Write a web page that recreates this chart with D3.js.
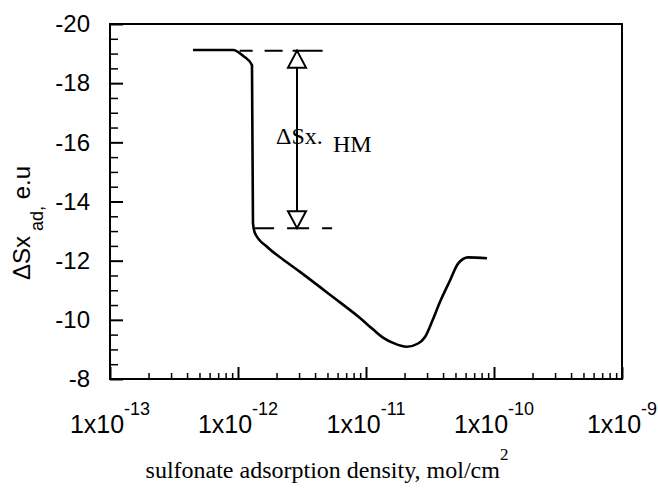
<!DOCTYPE html>
<html>
<head>
<meta charset="utf-8">
<script src="https://cdn.jsdelivr.net/npm/d3@7"></script>
<style>
  body { margin: 0; background: #fff; }
  svg { display: block; }
</style>
</head>
<body>
<div id="chart"></div>
<script>
// curve (density in mol/cm2, entropy in e.u)
const density = [4.45e-13, 9.14e-13, 1.1e-12, 1.286e-12, 1.309e-12, 1.358e-12, 1.685e-12, 2.248e-12,
  3.05e-12, 5.52e-12, 8.98e-12, 1.14e-11, 1.358e-11, 1.626e-11, 2.09e-11, 2.55e-11, 2.89e-11,
  3.28e-11, 3.78e-11, 4.53e-11, 5.24e-11, 6.27e-11, 8.81e-11];
const entropy = [-19.12, -19.12, -18.92, -18.61, -13.27, -12.93, -12.47, -12.04,
  -11.62, -10.77, -10.06, -9.67, -9.40, -9.22, -9.09, -9.20, -9.42,
  -9.94, -10.60, -11.33, -11.90, -12.11, -12.08];

const xMajor = [1e-13, 1e-12, 1e-11, 1e-10, 1e-9];
const xExponents = ['-13', '-12', '-11', '-10', '-9'];
const yMajor = [-20, -18, -16, -14, -12, -10, -8];

// ΔSx HM marker: arrow position and the two levels it spans
const hmX = 2.89e-12;
const hmLevels = [-19.1, -13.1];
const hmDashStart = [1.03e-12, 1.36e-12];
const hmDashEnd = [4.6e-12, 5.52e-12];

const W = 658, H = 490;
const plotL = 110, plotR = 622, plotT = 24, plotB = 379;

const x = d3.scaleLog().domain([1e-13, 1e-9]).range([plotL, plotR]);
const y = d3.scaleLinear().domain([-20, -8]).range([plotT, plotB]);

const svg = d3.select('#chart').append('svg')
  .attr('width', W).attr('height', H);

// minor ticks
const xMinor = [];
xMajor.slice(0, -1).forEach(d => { for (let k = 2; k < 10; k++) xMinor.push(k * d); });
const yMinor = d3.range(-20, -7.9, 0.5).filter(v => !yMajor.includes(v));

svg.append('g')
  .attr('transform', `translate(0,${plotB})`)
  .call(d3.axisBottom(x).tickValues(xMinor).tickSize(-6).tickFormat(''))
  .call(g => g.select('.domain').remove())
  .call(g => g.selectAll('line').attr('stroke-width', 1.5));

svg.append('g')
  .attr('transform', `translate(0,${plotB})`)
  .call(d3.axisBottom(x).tickValues(xMajor).tickSize(-12).tickFormat(''))
  .call(g => g.select('.domain').remove())
  .call(g => g.selectAll('line').attr('stroke-width', 2));

svg.append('g')
  .attr('transform', `translate(${plotL},0)`)
  .call(d3.axisLeft(y).tickValues(yMinor).tickSize(-8).tickFormat(''))
  .call(g => g.select('.domain').remove())
  .call(g => g.selectAll('line').attr('stroke-width', 1.5));

svg.append('g')
  .attr('transform', `translate(${plotL},0)`)
  .call(d3.axisLeft(y).tickValues(yMajor).tickSize(-13).tickPadding(20).tickFormat(d => String(d)))
  .call(g => g.select('.domain').remove())
  .call(g => g.selectAll('line').attr('stroke-width', 2))
  .call(g => g.selectAll('text')
    .attr('font-family', 'Liberation Sans, Arial, sans-serif')
    .attr('font-size', 24).attr('fill', '#000'));

// x tick labels with exponent
const xl = svg.append('g')
  .selectAll('text').data(xMajor).enter().append('text')
  .attr('x', d => x(d)).attr('y', plotB + 54)
  .attr('text-anchor', 'middle')
  .attr('font-family', 'Liberation Sans, Arial, sans-serif')
  .attr('font-size', 25);
xl.append('tspan').text('1x10');
xl.append('tspan').attr('dy', -18).attr('font-size', 18).text((d, i) => xExponents[i]);

// frame
svg.append('rect')
  .attr('x', plotL).attr('y', plotT)
  .attr('width', plotR - plotL).attr('height', plotB - plotT)
  .attr('fill', 'none').attr('stroke', '#000').attr('stroke-width', 2);

// curve
const line = d3.line()
  .x((d, i) => x(density[i]))
  .y(d => y(d))
  .curve(d3.curveMonotoneX);

svg.append('path')
  .datum(entropy)
  .attr('d', line)
  .attr('fill', 'none')
  .attr('stroke', '#000')
  .attr('stroke-width', 2.6)
  .attr('stroke-linejoin', 'round');

// dashed level lines
const dashes = ['13,12,18,10,30', '19,13,22,13,10'];
hmLevels.forEach((v, i) => {
  svg.append('line')
    .attr('x1', x(hmDashStart[i])).attr('x2', x(hmDashEnd[i]))
    .attr('y1', y(v)).attr('y2', y(v))
    .attr('stroke', '#000').attr('stroke-width', 2)
    .attr('stroke-dasharray', dashes[i]);
});

// double arrow with open heads
const ax = x(hmX), yTop = y(hmLevels[0]), yBot = y(hmLevels[1]);
const head = 17, half = 9;
svg.append('line')
  .attr('x1', ax).attr('x2', ax)
  .attr('y1', yTop + head).attr('y2', yBot - head)
  .attr('stroke', '#000').attr('stroke-width', 2);
svg.append('path')
  .attr('d', `M${ax},${yTop}L${ax - half},${yTop + head}L${ax + half},${yTop + head}Z`)
  .attr('fill', '#fff').attr('stroke', '#000').attr('stroke-width', 2);
svg.append('path')
  .attr('d', `M${ax},${yBot}L${ax - half},${yBot - head}L${ax + half},${yBot - head}Z`)
  .attr('fill', '#fff').attr('stroke', '#000').attr('stroke-width', 2);

const hmLabel = svg.append('text')
  .attr('x', 276).attr('y', 144)
  .attr('font-family', 'Liberation Serif, Times New Roman, serif')
  .attr('font-size', 24);
hmLabel.append('tspan').text('ΔSx.');
hmLabel.append('tspan').attr('x', 333).attr('dy', 8).attr('font-size', 24).text('HM');

// y title
const yt = svg.append('text')
  .attr('transform', 'translate(30,280) rotate(-90)')
  .attr('font-family', 'Liberation Sans, Arial, sans-serif')
  .attr('font-size', 24);
yt.append('tspan').text('ΔSx');
yt.append('tspan').attr('dy', 13).attr('font-size', 18).text(' ad,');
yt.append('tspan').attr('dy', -13).text(' e.u');

// x title
const xt = svg.append('text')
  .attr('x', 327).attr('y', 478)
  .attr('text-anchor', 'middle')
  .attr('font-family', 'Liberation Serif, Times New Roman, serif')
  .attr('font-size', 24);
xt.append('tspan').text('sulfonate adsorption density, mol/cm');
xt.append('tspan').attr('dy', -18).attr('font-size', 17).text('2');
</script>
</body>
</html>
